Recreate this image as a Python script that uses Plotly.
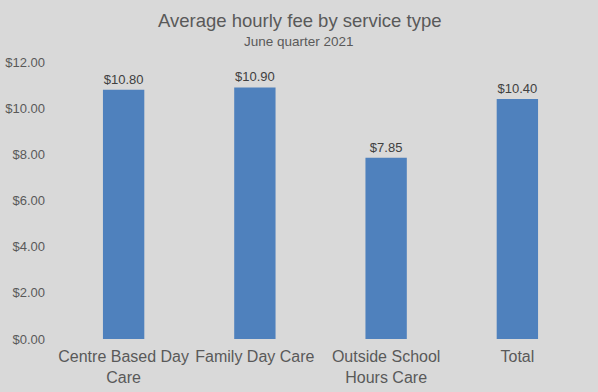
import plotly.graph_objects as go

categories = ["Centre Based Day<br>Care", "Family Day Care", "Outside School<br>Hours Care", "Total"]
fees = [10.80, 10.90, 7.85, 10.40]
tick_vals = [0, 2, 4, 6, 8, 10, 12]
tick_text = ["$0.00", "$2.00", "$4.00", "$6.00", "$8.00", "$10.00", "$12.00"]

W, H = 598, 392
ML, MR, MT, MB = 58, 15, 62, 53
pw, ph = W - ML - MR, H - MT - MB

def px_x(x):
    return (x - ML) / pw

def px_y(y):
    return (H - MB - y) / ph

fig = go.Figure(go.Bar(
    x=categories, y=fees,
    marker=dict(color="#4f81bd", line=dict(width=0)),
    width=0.315,
    text=[f"${v:.2f}" for v in fees],
    textposition="outside",
    textfont=dict(family="Liberation Sans, Arial", size=13, color="#404040"),
    cliponaxis=False,
    hoverinfo="skip",
))

fig.update_layout(
    width=W, height=H,
    paper_bgcolor="#d9d9d9", plot_bgcolor="#d9d9d9",
    margin=dict(l=ML, r=MR, t=MT, b=MB, autoexpand=False),
    font=dict(family="Liberation Sans, Arial", color="#595959"),
    xaxis=dict(showgrid=False, showline=False, ticks="", automargin=False,
               ticklabelstandoff=6,
               tickfont=dict(size=16, color="#595959")),
    yaxis=dict(range=[0, 12], tickvals=tick_vals, ticktext=tick_text, showgrid=False,
               zeroline=False, showline=False, ticks="", ticklen=0, automargin=False,
               ticklabelstandoff=12,
               tickfont=dict(size=13, color="#595959")),
    bargap=0.685,
    showlegend=False,
    annotations=[
        dict(text="Average hourly fee by service type", x=px_x(299), y=px_y(20),
             xref="paper", yref="paper", xanchor="center", yanchor="middle",
             showarrow=False, font=dict(size=18.5, color="#595959")),
        dict(text="June quarter 2021", x=px_x(299), y=px_y(41),
             xref="paper", yref="paper", xanchor="center", yanchor="middle",
             showarrow=False, font=dict(size=13.5, color="#595959")),
    ],
)

fig.write_html("out.html", config={"displayModeBar": False},
               post_script="document.body.style.margin='0';document.body.style.background='#d9d9d9';")
